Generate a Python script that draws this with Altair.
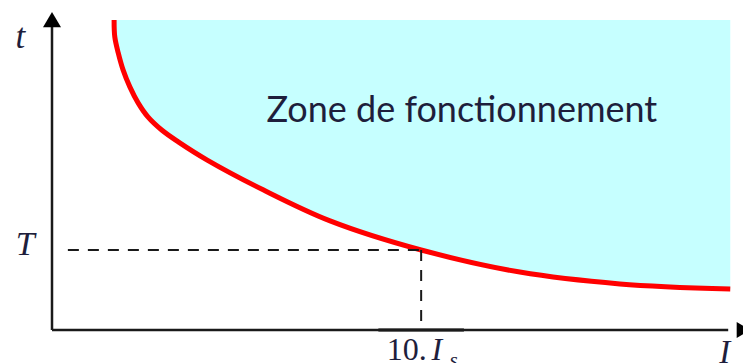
import altair as alt
import pandas as pd

# Tripping curve t(I): current (% of axis) vs time (% of axis)
curve_I = [9.0, 9.1, 9.6, 10.3, 11.3, 12.5, 13.9, 15.9, 18.3, 22.5, 30.6, 40.3, 53.5, 67.8, 82.3, 98.3]
curve_t = [96.9, 91.6, 86.6, 81.3, 75.9, 70.9, 66.6, 62.5, 58.8, 53.1, 43.8, 34.1, 25.0, 18.1, 14.4, 12.8]
zone_top = 96.9

# Operating point: T at 10·Is
point_I = 53.5
point_T = 25.0

# Axis extents
x_end = 98.0
y_end = 95.0

zone_label = "Zone de fonctionnement"

xs = alt.Scale(domain=[0, 100], nice=False, zero=False)
ys = alt.Scale(domain=[0, 100], nice=False, zero=False)

curve_df = pd.DataFrame({"I": curve_I, "t": curve_t, "top": zone_top})

zone = alt.Chart(curve_df).mark_area(
    color="#C6FFFF", interpolate="catmull-rom", opacity=1
).encode(
    x=alt.X("I:Q", scale=xs, axis=None),
    y=alt.Y("t:Q", scale=ys, axis=None),
    y2="top:Q",
)

curve = alt.Chart(curve_df).mark_line(
    color="#FF0000", strokeWidth=5, interpolate="catmull-rom"
).encode(x=alt.X("I:Q", scale=xs), y=alt.Y("t:Q", scale=ys))

# Axes drawn as rules with arrow heads
axes_df = pd.DataFrame({
    "x": [0, 0], "x2": [0, x_end], "y": [0, 0], "y2": [y_end, 0]
})
axes = alt.Chart(axes_df).mark_rule(color="#1a1a1a", strokeWidth=2.5).encode(
    x=alt.X("x:Q", scale=xs), x2="x2:Q",
    y=alt.Y("y:Q", scale=ys), y2="y2:Q",
)

label_shadow = alt.Chart(pd.DataFrame({"x": [point_I - 6.2], "x2": [point_I + 6.2], "y": [0]})).mark_rule(
    color="#555555", strokeWidth=3.5
).encode(x=alt.X("x:Q", scale=xs), x2="x2:Q", y=alt.Y("y:Q", scale=ys))

up_arrow = alt.Chart(pd.DataFrame({"x": [0], "y": [99.4]})).mark_point(
    shape="M0,0L-1,1.7L1,1.7Z", size=324, filled=True, color="black", opacity=1, strokeWidth=0
).encode(x=alt.X("x:Q", scale=xs), y=alt.Y("y:Q", scale=ys))

right_arrow = alt.Chart(pd.DataFrame({"x": [101.2], "y": [0]})).mark_point(
    shape="M0,0L-1.7,-1L-1.7,1Z", size=256, filled=True, color="black", opacity=1, strokeWidth=0
).encode(x=alt.X("x:Q", scale=xs), y=alt.Y("y:Q", scale=ys))

# Dashed guides to the operating point
guides_df = pd.DataFrame({
    "x": [2.3, point_I], "x2": [point_I, point_I],
    "y": [point_T, point_T], "y2": [point_T, 0.6],
})
guides = alt.Chart(guides_df).mark_rule(
    color="#1a1a1a", strokeWidth=2, strokeDash=[11, 9]
).encode(
    x=alt.X("x:Q", scale=xs), x2="x2:Q",
    y=alt.Y("y:Q", scale=ys), y2="y2:Q",
)

text_color = "#1e1e3c"
serif = "Liberation Serif"

def label(txt, x, y, size, style="italic", align="center", font=serif):
    return alt.Chart(pd.DataFrame({"x": [x], "y": [y], "txt": [txt]})).mark_text(
        font=font, fontSize=size, fontStyle=style, align=align,
        baseline="alphabetic", color=text_color
    ).encode(x=alt.X("x:Q", scale=xs), y=alt.Y("y:Q", scale=ys), text="txt:N")

labels = [
    label("t", -4.6, 88.1, 35),
    label("T", -3.9, 23.4, 34),
    label("10.", 54.3, -9.4, 32, style="normal", align="right"),
    label("I", 55.0, -9.4, 32, align="left"),
    label("s", 57.6, -11.5, 21, align="left"),
    label("I", 97.5, -10.3, 33),
    label(zone_label, 59.4, 65.0, 36, style="normal", font="Lato"),
]

chart = alt.layer(
    zone, curve, guides, label_shadow, axes, up_arrow, right_arrow, *labels
).properties(
    width=690, height=320,
    autosize=alt.AutoSizeParams(type="none"),
    padding={"left": 52, "top": 10, "right": 1, "bottom": 33},
    background="white",
).configure_view(strokeWidth=0)

chart.save("out.html", embed_options={"renderer": "svg", "actions": False})
